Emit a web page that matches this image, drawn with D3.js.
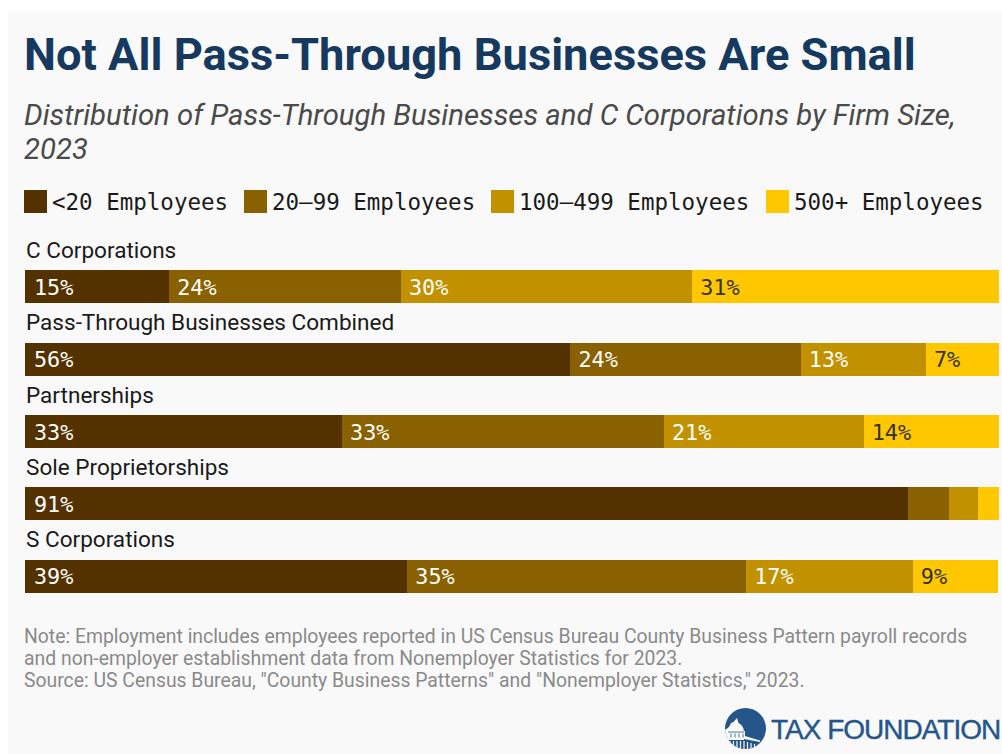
<!DOCTYPE html>
<html>
<head>
<meta charset="utf-8">
<style>
html,body{margin:0;padding:0;background:#fff}
svg{display:block;font-family:Roboto,sans-serif}
</style>
<script src="https://cdn.jsdelivr.net/npm/d3@7"></script>
</head>
<body>
<svg id="chart" width="1002" height="754"></svg>
<script>
// Share of firms by size class, in percent
const categories = ["C Corporations","Pass-Through Businesses Combined","Partnerships","Sole Proprietorships","S Corporations"];
const sizeClasses = ["<20 Employees","20\u201399 Employees","100\u2013499 Employees","500+ Employees"];
const under20   = [14.8,56.0,32.55,90.7,39.25];
const from20    = [23.8,23.65,33.05,4.2,34.8];
const from100   = [29.9,12.85,20.51,2.9,17.1];
const over500   = [31.49,7.49,13.89,2.2,8.75];
const palette = ["#543200","#8a6100","#c29100","#ffc700"];
const titleText = "Not All Pass-Through Businesses Are Small";
const subtitleLines = ["Distribution of Pass-Through Businesses and C Corporations by Firm Size,","2023"];
const noteLines = [
  "Note: Employment includes employees reported in US Census Bureau County Business Pattern payroll records",
  "and non-employer establishment data from Nonemployer Statistics for 2023.",
  "Source: US Census Bureau, \"County Business Patterns\" and \"Nonemployer Statistics,\" 2023."
];
const series = [under20,from20,from100,over500];

const svg = d3.select("#chart");
const mono = "'DejaVu Sans Mono',monospace";

svg.append("rect").attr("x",8).attr("y",12).attr("width",994).attr("height",742).attr("fill","#f9f9f9");

svg.append("text").attr("x",24).attr("y",70).attr("font-size",45.25).attr("font-weight",700)
  .attr("fill","#16395f").text(titleText);

svg.selectAll(".sub").data(subtitleLines).join("text").attr("class","sub")
  .attr("x",24).attr("y",(d,i)=>125+i*34).attr("font-size",29.3).attr("font-style","italic")
  .attr("fill","#4a4a4a").text(d=>d);

// Legend
const legendX = [24,244,491,766];
const legend = svg.selectAll(".lg").data(sizeClasses).join("g").attr("class","lg")
  .attr("transform",(d,i)=>`translate(${legendX[i]},190)`);
legend.append("rect").attr("width",23).attr("height",23).attr("fill",(d,i)=>palette[i]);
legend.append("text").attr("x",28).attr("y",19.5).attr("font-family",mono).attr("font-size",22.5)
  .attr("fill","#1a1a1a").text(d=>d);

// Stacked bars
const x = d3.scaleLinear().domain([0,100]).range([25,999]);
const y = d3.scaleBand().domain(categories).range([270.2,592.8]).paddingInner(0.5442).paddingOuter(0);
const rows = categories.map((c,r)=>{
  let acc = 0;
  return {c, segs: series.map((s,k)=>{const start=acc; acc+=s[r]; return {k,v:s[r],start,end:acc};})};
});
const row = svg.selectAll(".row").data(rows).join("g").attr("class","row");
row.append("text").attr("x",26).attr("y",d=>y(d.c)-12.5).attr("font-size",22.55).attr("fill","#1a1a1a").text(d=>d.c);
row.selectAll("rect").data(d=>d.segs.map(s=>({...s,c:d.c}))).join("rect")
  .attr("x",d=>x(d.start)).attr("width",d=>x(d.end)-x(d.start))
  .attr("y",d=>y(d.c)).attr("height",y.bandwidth())
  .attr("shape-rendering","crispEdges")
  .attr("fill",d=>palette[d.k]);
row.selectAll(".val").data(d=>d.segs.filter(s=>s.v>=5).map(s=>({...s,c:d.c}))).join("text").attr("class","val")
  .attr("x",d=>x(d.start)+(d.k===0?9:8)).attr("y",d=>y(d.c)+y.bandwidth()/2+8)
  .attr("font-family",mono).attr("font-size",21.8)
  .attr("fill",d=>d.k===3?"#333":"#fff")
  .text(d=>d3.format(".0f")(d.v)+"%");

// Notes
svg.selectAll(".note").data(noteLines).join("text").attr("class","note")
  .attr("x",24).attr("y",(d,i)=>643+i*22).attr("font-size",19.38).attr("fill","#8a8a8a").text(d=>d);

// Wordmark: round seal with a capitol dome, then the name
const logo = svg.append("g");
const blue = "#24568c";
svg.append("clipPath").attr("id","seal").append("circle").attr("cx",745.5).attr("cy",728.5).attr("r",20.5);
logo.append("circle").attr("cx",745.5).attr("cy",728.5).attr("r",20.5).attr("fill",blue);
const seal = logo.append("g").attr("clip-path","url(#seal)");
seal.append("path").attr("fill","#f9f9f9")
  .attr("d","M737 718l1.500 5c3 1.500 5 4 5.500 8h1v5l15 4.500v1.500l-16-3h-20v-9c3-1 5.500-2.500 7-7c1-.5 1.500-.5 2-.5z");
seal.append("path").attr("fill","none").attr("stroke","#f9f9f9").attr("stroke-width",1.2)
  .attr("d","M727 739.500h17M730 741v8M733.500 741v9M737 741v9M740.500 741v9M744 741v9M747.500 742v7M751 743v6M754.500 744v4");
seal.append("path").attr("fill","none").attr("stroke",blue).attr("stroke-width",0.8)
  .attr("d","M728 732h16M731 733.500v4M735 733.500v4M739 733.500v4M743 733.500v4");
logo.append("text").attr("x",771).attr("y",738.500).attr("font-family","'Liberation Sans',sans-serif")
  .attr("font-size",28).attr("letter-spacing",-1).attr("stroke",blue).attr("stroke-width",0.4).attr("fill",blue).text("TAX FOUNDATION");
</script>
</body>
</html>
